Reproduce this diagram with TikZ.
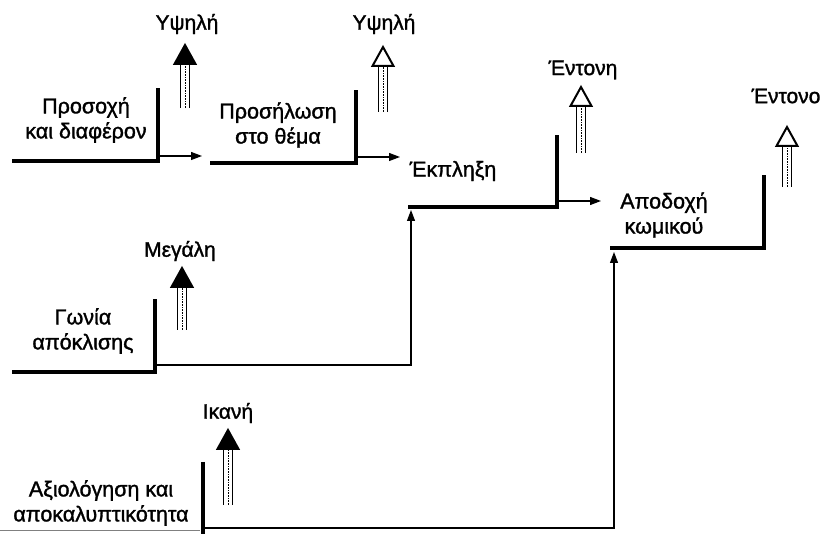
\documentclass[tikz,border=0pt]{standalone}
\usepackage{fontspec}
\setmainfont{Liberation Sans}[BoldFont=Liberation Sans, BoldFeatures={FakeBold=1.4}]
\usetikzlibrary{arrows.meta}
\newcommand\myuparrow[4]{% x, bottom y, head base y, head fill
  \draw[line width=1pt] ({#1-4.5},#2) -- ({#1-4.5},#3) ({#1+4.5},#2) -- ({#1+4.5},#3);
  \draw[line width=0.6pt, densely dotted] (#1,#2) -- (#1,#3);
  \draw[line width=2pt, fill=#4, line join=miter] ({#1-10.5},#3) -- ({#1+10.5},#3) -- (#1,{#3-19}) -- cycle;
}
\begin{document}
\begin{tikzpicture}[x=1pt,y=-1pt,
  stair/.style={line width=4.5pt, line join=miter},
  flow/.style={line width=1.2pt, -{Triangle[length=11pt,width=8pt]}},
  lbl/.style={font=\fontsize{21.5}{25}\selectfont\bfseries, align=center, inner sep=0pt},
  tag/.style={font=\fontsize{21}{24}\selectfont\bfseries, inner sep=0pt}]
\useasboundingbox (0,0) rectangle (828,534);

% step 1
\draw[stair] (12,161) -| (158,88);
\node[lbl] (t1) at (86,120) {Προσοχή\\και διαφέρον};
\coordinate (f1a) at (160,156); \coordinate (f1b) at (202,156);
\draw[flow] (f1a) -- (f1b);
\myuparrow{185}{108}{64}{black}
\node[tag] (u1) at (187,24) {Υψηλή};

% step 2
\draw[stair] (210,163) -| (356,90);
\node[lbl] (t2) at (278,125) {Προσήλωση\\στο θέμα};
\coordinate (f2a) at (358,157); \coordinate (f2b) at (400,157);
\draw[flow] (f2a) -- (f2b);
\myuparrow{383}{112}{66}{white}
\node[tag] (u2) at (384,24) {Υψηλή};

% step 3
\draw[stair] (408,207) -| (557,135);
\node[lbl] (t3) at (453,171) {Έκπληξη};
\coordinate (f3a) at (559,201); \coordinate (f3b) at (601,201);
\draw[flow] (f3a) -- (f3b);
\myuparrow{581}{153}{106}{white}
\node[tag] (u3) at (583,70) {Έντονη};

% step 4
\draw[stair] (610,248) -| (764,175);
\node[lbl] (t4) at (664,215) {Αποδοχή\\κωμικού};
\myuparrow{787}{187}{146}{white}
\node[tag] (u4) at (786,96) {Έντονο};

% step 5
\draw[stair] (12,372) -| (155,299);
\node[lbl] (t5) at (83,331) {Γωνία\\απόκλισης};
\myuparrow{182}{330}{287}{black}
\node[tag] (u5) at (180,251) {Μεγάλη};
\coordinate (g5) at (157,365); \coordinate (g3) at (411,210);
\draw[flow] (g5) -| (g3);

% step 6
\draw[line width=0.6pt, gray] (0,530) -- (200,530);
\draw[line width=4.5pt] (203,462) -- (203,534);
\node[lbl] (t6) at (101,503) {Αξιολόγηση και\\αποκαλυπτικότητα};
\myuparrow{228}{505}{449}{black}
\node[tag] (u6) at (228,413) {Ικανή};
\coordinate (g6) at (205,528); \coordinate (g4) at (614,252);
\draw[flow] (g6) -| (g4);
\end{tikzpicture}
\end{document}
